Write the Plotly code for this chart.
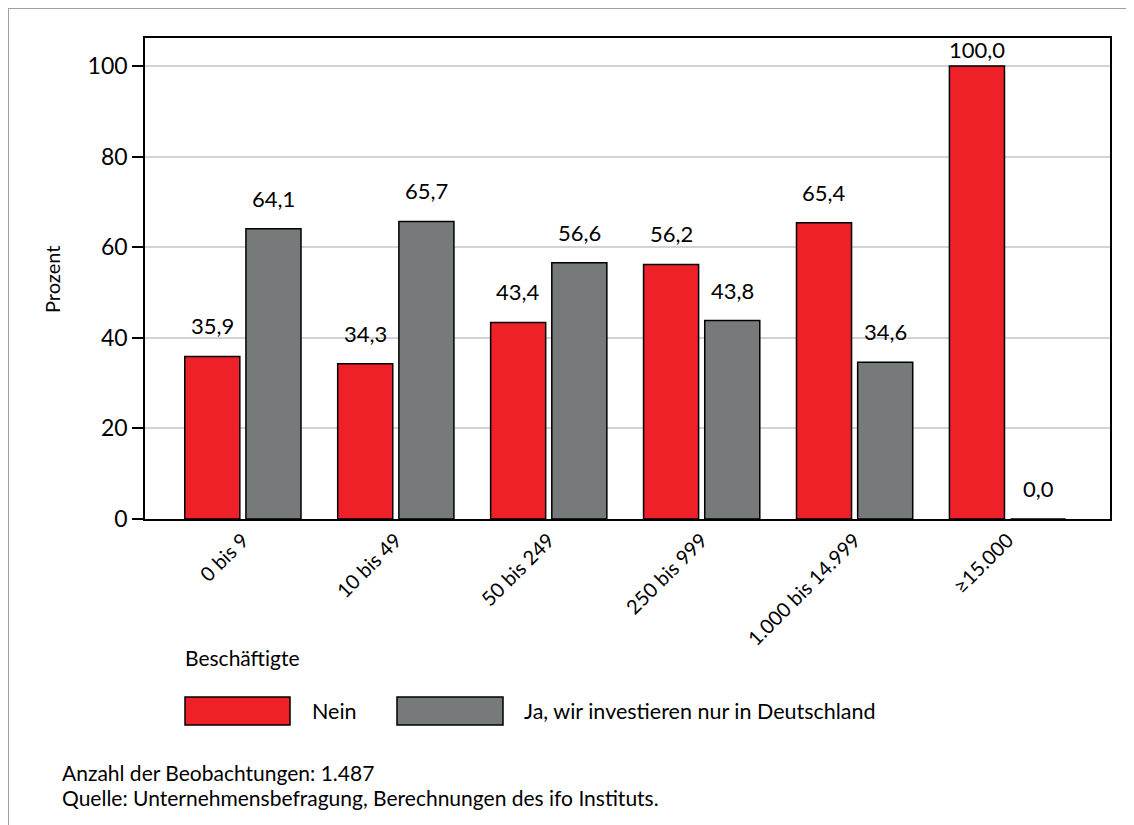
import plotly.graph_objects as go

categories = ["0 bis 9", "10 bis 49", "50 bis 249", "250 bis 999", "1.000 bis 14.999", "≥15.000"]
nein = [35.9, 34.3, 43.4, 56.2, 65.4, 100.0]
ja_deutschland = [64.1, 65.7, 56.6, 43.8, 34.6, 0.0]
series_names = ["Nein", "Ja, wir investieren nur in Deutschland"]
colors = ["#EE2129", "#767A7A"]

FONT = "Lato"

# figure size and plot area (pixels, figure coords; page adds 8px body margin)
W, H = 1134, 825
OFF = 8
L, R, T, B = 145 - OFF, W - (1110 - OFF), 38 - OFF, H - (519 - OFF)


def px_x(x):
    return (x - OFF - L) / (W - L - R)


def px_y(y):
    return (H - B - (y - OFF)) / (H - T - B)


fig = go.Figure()
for name, vals, col in zip(series_names, [nein, ja_deutschland], colors):
    fig.add_trace(go.Bar(
        x=categories, y=vals, name=name,
        marker=dict(color=col, line=dict(color="black", width=1.5)),
        showlegend=False,
    ))

# value labels above bars
for i, vals in enumerate([nein, ja_deutschland]):
    for cat, v in zip(categories, vals):
        fig.add_annotation(
            x=cat, y=v, text=f"{v:.1f}".replace(".", ","),
            showarrow=False, xanchor="center", yanchor="bottom",
            xshift=-30.5 if i == 0 else 30.5,
            yshift=15 if v < 95 else 1,
            font=dict(family=FONT, size=22, color="black"),
        )

# legend drawn by hand (large swatches)
legend_items = [(185, 290, 310), (397, 503, 522)]
for (x0, x1, tx), name, col in zip(legend_items, series_names, colors):
    fig.add_shape(type="rect", xref="paper", yref="paper",
                  x0=px_x(x0), x1=px_x(x1), y0=px_y(725), y1=px_y(697),
                  fillcolor=col, line=dict(color="black", width=1.5))
    fig.add_annotation(xref="paper", yref="paper", x=px_x(tx), y=px_y(711),
                       text=name, showarrow=False, xanchor="left", yanchor="middle",
                       font=dict(family=FONT, size=21.5, color="black"))

fig.add_annotation(xref="paper", yref="paper", x=px_x(183), y=px_y(657),
                   text="Beschäftigte", showarrow=False, xanchor="left", yanchor="middle",
                   font=dict(family=FONT, size=21, color="black"))
fig.add_annotation(xref="paper", yref="paper", x=px_x(52), y=px_y(280),
                   text="Prozent", showarrow=False, textangle=-90,
                   xanchor="center", yanchor="middle",
                   font=dict(family=FONT, size=20, color="black"))
fig.add_annotation(xref="paper", yref="paper", x=px_x(60), y=px_y(772),
                   text="Anzahl der Beobachtungen: 1.487", showarrow=False,
                   xanchor="left", yanchor="middle",
                   font=dict(family=FONT, size=21, color="black"))
fig.add_annotation(xref="paper", yref="paper", x=px_x(60), y=px_y(797),
                   text="Quelle: Unternehmensbefragung, Berechnungen des ifo Instituts.",
                   showarrow=False, xanchor="left", yanchor="middle",
                   font=dict(family=FONT, size=21, color="black"))

# outer frame around the figure
fig.add_shape(type="rect", xref="paper", yref="paper",
              x0=px_x(OFF), x1=px_x(OFF + W), y0=px_y(OFF + H), y1=px_y(OFF),
              line=dict(color="#A0A0A0", width=2))

fig.update_layout(
    width=W, height=H,
    margin=dict(l=L, r=R, t=T, b=B),
    paper_bgcolor="white", plot_bgcolor="white",
    barmode="group", bargap=0.2, bargroupgap=0.1,
    font=dict(family=FONT, size=20, color="black"),
)
fig.update_xaxes(
    type="category", range=[-0.64, 5.67],
    tickangle=-45, tickfont=dict(family=FONT, size=20),
    showline=True, linecolor="black", linewidth=1.5, mirror=True,
    ticks="", showgrid=False,
)
fig.update_yaxes(
    range=[0, 106.2], tickvals=[0, 20, 40, 60, 80, 100],
    tickfont=dict(family=FONT, size=23),
    showline=True, linecolor="black", linewidth=1.5, mirror=True,
    ticks="outside", ticklen=11, tickwidth=1.5, tickcolor="black",
    showgrid=True, gridcolor="#D3D3D3", gridwidth=2, zeroline=False,
)

fig.write_html("out.html")
